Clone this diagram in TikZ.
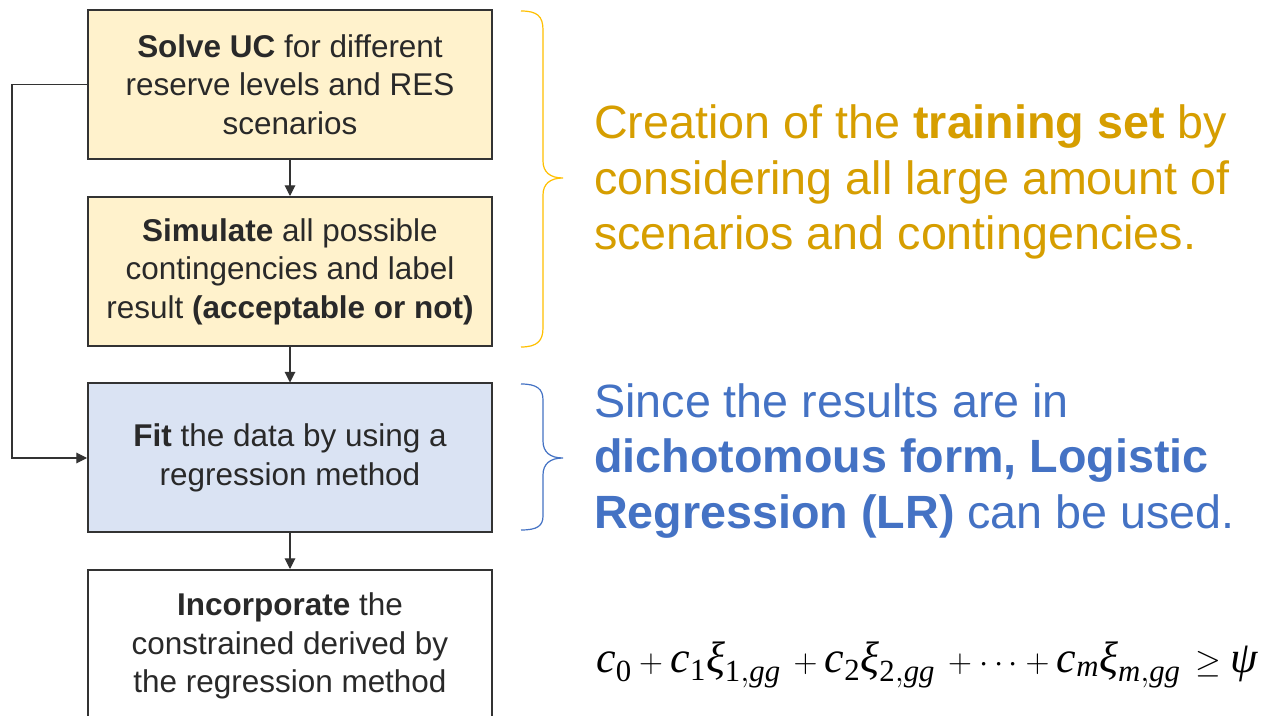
\documentclass[tikz,border=0pt]{standalone}
\usepackage{amsmath}
\usepackage{fontspec}
\setmainfont{Liberation Sans}
\newfontfamily\tms{Liberation Serif}
\newcommand\mv[1]{\text{\tms\itshape #1}}
\newcommand\mn[1]{\text{\tms #1}}
\usetikzlibrary{arrows.meta}
\definecolor{boxline}{HTML}{333333}
\definecolor{yel}{HTML}{FFF2CC}
\definecolor{blu}{HTML}{DAE3F3}
\definecolor{orng}{HTML}{D69E00}
\definecolor{bluetxt}{HTML}{4472C4}
\definecolor{bracey}{HTML}{FFC000}
\begin{document}
\begin{tikzpicture}[x=0.75pt,y=-0.75pt,
  stepbox/.style={draw=boxline, line width=1.5pt, minimum width=303pt, minimum height=111.75pt,
    inner sep=0pt, align=center, text=boxline!80!black, font=\fontsize{23.6}{28.9}\selectfont},
  ybox/.style={stepbox, fill=yel},
  bbox/.style={stepbox, fill=blu},
  wbox/.style={stepbox, fill=white, minimum height=114pt},
  arr/.style={draw=boxline, line width=0.8pt, -{Triangle[width=8pt,length=8pt]}},
  sidetext/.style={anchor=west, align=left, inner sep=0pt, font=\fontsize{35}{41.3}\selectfont},
  brace/.style={line width=0.9pt}]
\fill[white] (0,0) rectangle (1268,716);
\useasboundingbox (0,0) rectangle (1268,716);
\begin{scope}
\clip (0,0) rectangle (1268,716);
\node[ybox] (b1) at (290,84.5) {\textbf{Solve UC} for different\\reserve levels and RES\\scenarios};
\node[ybox] (b2) at (290,271.5) {\textbf{Simulate} all possible\\contingencies and label\\result \textbf{(acceptable or not)}};
\node[bbox] (b3) at (290,458) {\textbf{Fit} the data by using a\\regression method};
\node[wbox] (b4) at (290,646) {\textbf{Incorporate} the\\constrained derived by\\the regression method};
\end{scope}
\draw[arr] (b1.south) -- (b2.north);
\draw[arr] (b2.south) -- (b3.north);
\draw[arr] (b3.south) -- (b4.north);
\draw[arr] (b1.west) -- ++(-75,0) |- (b3.west);
% braces
\draw[brace, bracey] (521,11) .. controls (537,11) and (543,16) .. (543,30) -- (543,161)
  .. controls (543,172) and (550,178) .. (563,178) .. controls (550,178) and (543,184) .. (543,195)
  -- (543,328) .. controls (543,341) and (537,347) .. (521,347);
\draw[brace, bluetxt] (521,384) .. controls (537,384) and (543,389) .. (543,400) -- (543,441)
  .. controls (543,452) and (550,458) .. (563,458) .. controls (550,458) and (543,464) .. (543,475)
  -- (543,516) .. controls (543,526) and (537,530) .. (521,530);
\node[sidetext, text=orng] (t1) at (594,182) {Creation of the \textbf{training set} by\\considering all large amount of\\scenarios and contingencies.};
\node[sidetext, text=bluetxt] (t2) at (594,461) {Since the results are in\\\textbf{dichotomous form, Logistic}\\\textbf{Regression (LR)} can be used.};
\node[anchor=base west, inner sep=0pt, font=\fontsize{33}{40}\selectfont] (eq) at (596,672)
  {$\mv{c}_{\mn{0}} + \mv{c}_{\mn{1}}\mv{ξ}_{\mn{1},\mv{gg}}\, + \mv{c}_{\mn{2}}\mv{ξ}_{\mn{2},\mv{gg}}\, + \cdots + \mv{c}_{\mv{m}}\mv{ξ}_{\mv{m},\mv{gg}}\, \geq \mv{ψ}$};
\end{tikzpicture}
\end{document}
